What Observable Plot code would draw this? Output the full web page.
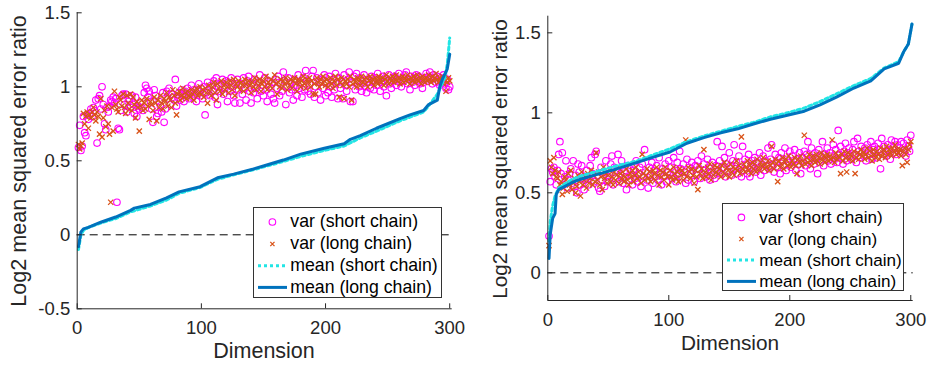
<!DOCTYPE html>
<html><head><meta charset="utf-8">
<script src="https://cdn.jsdelivr.net/npm/d3@7"></script>
<script src="https://cdn.jsdelivr.net/npm/@observablehq/plot@0.6"></script>
<style>
body{margin:0;background:#fff;font-family:"Liberation Sans",Arial,sans-serif;color:#262626;}
#wrap{position:relative;width:930px;height:368px;overflow:hidden;}
.panel{position:absolute;top:0;}
.lab{position:absolute;white-space:nowrap;line-height:1;color:#262626;}
.legend{position:absolute;border:1px solid #333;background:#fff;box-sizing:border-box;}
.legend .row{position:absolute;white-space:nowrap;line-height:1;color:#000;}
.legend svg{position:absolute;overflow:visible;}
</style></head><body>
<div id="wrap"></div>
<script>
// ---------- data ----------
const xTicks = [0, 100, 200, 300];
const yTicksLeft = [-0.5, 0, 0.5, 1, 1.5];
const yTicksRight = [0, 0.5, 1, 1.5];
const seriesNames = ["var (short chain)", "var (long chain)", "mean (short chain)", "mean (long chain)"];
const xLabel = "Dimension";
const yLabel = "Log2 mean squared error ratio";

// Left panel: variance ratios per dimension (1..300)
const leftVarShort = [
.59,.74,.57,.60,.80,.69,.67,.81,.78,.82, .85,.80,.86,.84,.91,.62,.92,.94,.85,1.00,
.88,.75,.71,.86,.83,.87,.91,.90,.93,.89, .92,.22,.72,.71,.84,.94,.95,.88,.95,.83,
.90,.92,.86,.94,.88,.82,.93,.80,.87,.85, .89,.86,.84,.96,1.01,.99,.93,.97,.90,.85,
.76,.98,.94,.80,.82,.90,.87,.83,.96,.76, .85,.97,.92,.99,.88,.95,.93,.91,1.05,.87,
.93,.96,.91,.98,.95,.90,.97,.94,.99,.92, .96,1.01,.93,.98,.95,.90,.97,1.02,.94,.99,
.92,1.00,.81,.96,1.03,.98,.94,1.01,.97,1.04, .93,1.06,.88,1.00,.97,1.02,1.05,.95,.99,1.04,
.90,1.03,.97,1.06,1.00,.94,.89,1.02,1.05,.98, .89,1.01,.95,1.06,.99,.91,1.04,1.07,.97,.89,
1.02,.96,1.05,.99,.92,1.03,1.08,.97,1.01,.94, 1.06,.98,.90,1.04,1.00,.95,1.03,.92,.89,1.05,
.99,1.07,.94,1.02,.97,1.10,1.04,.88,1.00,1.06, .96,1.03,.98,.91,1.05,1.01,.94,1.08,.99,1.03,
.93,1.06,.98,1.11,1.04,.97,1.02,.95,1.07,1.11, .93,1.00,1.06,.96,1.03,.91,1.05,.99,1.08,.94,
1.02,.96,1.07,1.00,.93,1.05,.98,1.09,1.03,.92, 1.06,.99,1.04,.92,1.08,1.01,.97,1.05,1.10,.90,
1.03,.90,1.07,.98,1.09,1.04,1.00,1.06,.97,1.02, 1.08,1.00,.96,1.05,1.03,.99,1.07,1.04,.98,1.06,
1.01,1.09,1.05,.97,1.03,1.07,1.00,1.06,.94,1.04, 1.08,1.02,.99,1.06,1.04,1.07,1.01,1.05,1.09,1.03,
1.00,1.06,1.04,1.08,1.10,1.02,1.05,.98,1.07,1.03, 1.06,1.01,1.08,1.04,1.07,1.02,1.05,.99,1.03,1.06,
1.09,1.04,1.07,1.10,1.05,1.02,1.08,1.06,1.03,1.07, 1.04,1.01,1.06,1.03,1.08,1.02,.99,1.05,.98,1.00];
const leftVarLong = [
.61,.58,.60,.62,.82,.75,.80,.83,.72,.81, .79,.83,.86,.81,.77,.83,.80,.68,.92,.66,
.79,.84,.73,.87,.75,.68,.22,.86,.70,.97, .88,.85,.83,.93,.91,.87,.95,.86,.82,.94,
.89,.85,.95,.84,.93,.88,.79,.90,.86,.70, .87,.91,.84,.89,.85,.92,.87,.78,.90,.88,
.84,.93,.89,.77,.91,.86,.94,.89,.85,.92, .90,.96,.87,.93,.91,.86,.98,.94,.89,.81,
.95,.97,.91,.94,.99,.93,.96,.92,.97,.94, .93,.98,.95,.91,.97,.99,.94,.96,1.00,.95,
.98,.93,.99,.96,.89,1.01,.97,.94,1.00,1.03, .96,.91,1.02,.99,.97,1.04,.95,1.01,.98,1.03,
1.00,.96,1.04,1.01,.98,1.05,.94,1.02,1.00,1.04, .98,1.03,1.01,.97,1.05,1.02,.99,1.04,1.01,.96,
1.03,1.00,1.06,.98,1.04,1.01,1.05,.97,1.02,1.04, 1.00,1.07,.98,1.03,1.01,1.05,.99,1.04,1.08,1.02,
.95,1.03,1.00,1.05,.99,1.04,1.02,1.06,.98,1.03, 1.01,1.05,.99,1.04,1.06,1.02,.97,1.05,1.03,1.00,
1.04,1.07,1.02,.99,1.05,1.03,1.06,1.00,1.04,.95, 1.02,.95,1.06,1.03,1.00,1.05,1.02,1.07,1.04,1.01,
1.05,1.00,1.03,1.06,1.02,.99,1.04,1.07,1.01,1.05, .93,1.03,1.06,1.01,.92,1.04,1.02,1.05,1.00,1.07,
.91,1.02,1.05,1.03,1.00,1.06,1.04,1.01,1.07,1.03, 1.05,1.02,1.06,1.00,1.04,1.07,1.03,1.05,1.01,1.06,
1.04,1.02,1.07,1.05,1.03,1.06,1.01,1.05,1.08,1.04, 1.02,1.06,1.04,1.07,1.03,1.05,1.08,1.04,1.06,1.02,
1.05,1.07,1.03,1.06,1.04,1.08,1.05,1.02,1.06,1.04, 1.07,1.03,1.05,1.08,1.04,1.06,1.02,1.07,1.05,1.03,
1.06,1.04,1.08,1.05,1.03,1.07,1.04,1.06,1.09,1.05, 1.03,1.06,1.04,1.07,1.02,1.05,.97,1.03,1.06,1.04];
// Left panel: sorted mean ratios (read at key dimensions)
const leftMeanLongDim = [1,3,5,9,19,31,43,46,59,72,82,99,113,126,142,150,166,180,199,215,220,228,241,260,268,279,283,290,292,294,298,300];
const leftMeanLongVal = [-0.08,0.02,0.04,0.05,0.085,0.12,0.165,0.18,0.205,0.25,0.29,0.325,0.385,0.41,0.445,0.465,0.505,0.545,0.585,0.615,0.645,0.67,0.72,0.785,0.81,0.84,0.88,0.91,1.0,1.05,1.12,1.22];
const leftMeanShortDim = [1,3,5,9,19,31,43,59,72,82,99,113,126,142,166,180,199,215,228,241,260,268,279,282,290,296,298,300];
const leftMeanShortVal = [-0.10,0.0,0.03,0.05,0.08,0.11,0.155,0.195,0.235,0.28,0.32,0.375,0.405,0.44,0.495,0.53,0.57,0.60,0.655,0.70,0.77,0.795,0.83,0.86,0.95,1.06,1.15,1.33];

// Right panel
const rightVarShort = [
.23,.57,.65,.63,.66,.60,.55,.64,.74,.82, .62,.75,.55,.60,.70,.53,.58,.62,.65,.56,
.70,.54,.61,.50,.68,.63,.55,.67,.59,.52, .58,.64,.60,.55,.67,.72,.62,.57,.74,.76,
.61,.53,.51,.66,.58,.63,.54,.70,.57,.60, .62,.68,.73,.55,.66,.59,.64,.74,.57,.62,
.70,.56,.63,.60,.52,.67,.58,.65,.61,.55, .64,.59,.70,.57,.62,.66,.54,.68,.60,.77,
.63,.58,.53,.66,.61,.69,.56,.64,.60,.67, .58,.72,.62,.55,.65,.60,.68,.57,.63,.70,
.61,.66,.59,.72,.64,.57,.69,.62,.76,.65, .60,.68,.63,.56,.71,.58,.66,.62,.69,.64,
.57,.67,.61,.70,.65,.59,.73,.62,.68,.64, .60,.71,.66,.58,.63,.69,.61,.59,.67,.82,
.64,.70,.62,.79,.66,.72,.60,.68,.63,.75, .67,.61,.70,.80,.65,.69,.62,.73,.66,.60,
.79,.64,.71,.68,.62,.74,.60,.67,.70,.65, .72,.63,.69,.66,.75,.61,.68,.73,.64,.70,
.67,.78,.65,.71,.80,.68,.63,.74,.69,.66, .72,.62,.75,.70,.67,.78,.64,.71,.69,.76,
.66,.73,.70,.77,.64,.71,.68,.75,.62,.72, .69,.76,.67,.74,.82,.70,.65,.78,.72,.68,
.75,.71,.62,.77,.69,.73,.82,.67,.74,.71, .78,.70,.75,.68,.73,.80,.71,.77,.69,.89,
.74,.79,.72,.68,.76,.81,.70,.75,.78,.73, .71,.77,.82,.74,.69,.84,.76,.72,.79,.75,
.73,.78,.70,.80,.76,.74,.82,.71,.77,.79, .75,.72,.81,.77,.65,.84,.74,.79,.76,.73,
.80,.77,.71,.83,.78,.75,.82,.74,.80,.76, .78,.82,.75,.81,.77,.73,.83,.79,.76,.86];
const rightVarLong = [
.17,.70,.66,.62,.72,.64,.60,.59,.63,.55, .57,.49,.53,.60,.58,.51,.62,.55,.64,.52,
.56,.59,.50,.54,.61,.57,.48,.63,.55,.58, .60,.53,.62,.56,.59,.64,.55,.61,.57,.75,
.58,.63,.55,.60,.52,.66,.59,.62,.56,.61, .64,.57,.60,.55,.63,.58,.61,.66,.56,.62,
.59,.63,.57,.60,.65,.58,.55,.62,.60,.64, .57,.61,.66,.59,.63,.60,.56,.74,.62,.58,
.61,.65,.59,.63,.57,.60,.64,.62,.58,.66, .61,.55,.64,.60,.63,.58,.66,.62,.60,.55,
.64,.60,.58,.66,.62,.59,.63,.57,.65,.61, .64,.58,.62,.83,.60,.66,.63,.59,.65,.61,
.56,.64,.60,.52,.67,.62,.65,.59,.77,.63, .60,.66,.62,.68,.58,.64,.61,.67,.63,.66,
.62,.65,.60,.67,.63,.69,.61,.66,.64,.60, .68,.63,.66,.61,.65,.70,.64,.67,.62,.85,
.65,.68,.63,.66,.70,.64,.67,.62,.69,.65, .68,.63,.71,.66,.64,.69,.67,.72,.65,.68,
.66,.70,.64,.67,.79,.69,.65,.71,.68,.57, .70,.66,.68,.72,.65,.69,.71,.67,.73,.68,
.66,.70,.68,.72,.67,.62,.71,.69,.73,.67, .70,.86,.68,.72,.69,.74,.70,.67,.73,.71,
.69,.74,.70,.72,.68,.75,.71,.73,.69,.72, .74,.70,.73,.71,.83,.72,.69,.75,.71,.73,
.72,.62,.74,.70,.76,.72,.63,.75,.71,.74, .73,.70,.76,.62,.72,.75,.71,.74,.77,.73,
.75,.71,.74,.78,.72,.76,.73,.70,.77,.74, .72,.76,.74,.71,.78,.73,.75,.77,.72,.79,
.74,.77,.75,.73,.78,.76,.80,.74,.77,.75, .77,.73,.67,.76,.78,.74,.69,.77,.80,.82];
const rightMeanLongDim = [1,2,4,6,7,9,19,27,41,55,74,88,101,115,129,143,157,170,184,198,212,225,239,253,267,278,290,294,298,301];
const rightMeanLongVal = [0.09,0.24,0.34,0.37,0.49,0.52,0.56,0.585,0.615,0.645,0.69,0.725,0.755,0.81,0.845,0.875,0.90,0.93,0.96,0.985,1.01,1.05,1.10,1.155,1.20,1.275,1.31,1.38,1.43,1.555];
const rightMeanShortDim = [1,2,4,6,9,19,27,41,55,74,88,101,115,129,143,157,170,184,198,212,225,239,253,267,278,290,294,298,301];
const rightMeanShortVal = [0.20,0.32,0.42,0.48,0.53,0.58,0.605,0.635,0.665,0.70,0.74,0.775,0.82,0.855,0.885,0.915,0.94,0.975,1.0,1.03,1.07,1.12,1.17,1.215,1.28,1.32,1.38,1.43,1.555];

// ---------- styles ----------
const C_SHORT = "#ff00ff", C_LONG = "#d95319", C_MSHORT = "#22e5e5", C_MLONG = "#0072bd", AXIS = "#262626";
const FONT = "'Liberation Sans', Arial, sans-serif";

function toRows(vals) { return vals.map((v, i) => ({dim: i + 1, val: v})); }
function toLine(dims, vals) { return dims.map((d, i) => ({dim: d, val: vals[i]})); }

function panel(cfg) {
  const {varShort, varLong, mShortD, mShortV, mLongD, mLongV, yDomain, yTicks, margins, left} = cfg;
  const chart = Plot.plot({
    width: 465, height: 368,
    marginLeft: margins[0], marginRight: margins[1], marginTop: margins[2], marginBottom: margins[3],
    x: {domain: [0, 302]},
    y: {domain: yDomain},
    style: {fontFamily: FONT, background: "transparent", overflow: "visible"},
    marks: [
      Plot.ruleY([0], {stroke: "#000", strokeWidth: 1, strokeDasharray: "8 5"}),
      Plot.dot(toRows(varShort), {x: "dim", y: "val", r: 3.3, stroke: C_SHORT, strokeWidth: 1.1, fill: "none"}),
      Plot.dot(toRows(varLong), {x: "dim", y: "val", symbol: "times", r: 2.5, stroke: C_LONG, strokeWidth: 1.3}),
      Plot.line(toLine(mShortD, mShortV), {x: "dim", y: "val", stroke: C_MSHORT, strokeWidth: 3, strokeDasharray: "3 3"}),
      Plot.line(toLine(mLongD, mLongV), {x: "dim", y: "val", stroke: C_MLONG, strokeWidth: 3}),
      Plot.ruleX([0], {stroke: AXIS}),
      Plot.ruleY([yDomain[0]], {stroke: AXIS}),
      Plot.axisX(xTicks, {tickSize: -5, tickPadding: 17, fontSize: 18.5, color: AXIS, label: null, tickFormat: d => String(d)}),
      Plot.axisY(yTicks, {tickSize: -5, tickPadding: 12, fontSize: 18.5, color: AXIS, label: null, tickFormat: d => String(d)})
    ]
  });
  const div = document.createElement("div");
  div.className = "panel";
  div.style.left = left + "px";
  div.appendChild(chart);
  return div;
}

const wrap = document.getElementById("wrap");
wrap.appendChild(panel({varShort: leftVarShort, varLong: leftVarLong, mShortD: leftMeanShortDim, mShortV: leftMeanShortVal,
  mLongD: leftMeanLongDim, mLongV: leftMeanLongVal, yDomain: [-0.5, 1.5], yTicks: yTicksLeft,
  margins: [76.7, 13.3, 12.3, 59.7], left: 0}));
wrap.appendChild(panel({varShort: rightVarShort, varLong: rightVarLong, mShortD: rightMeanShortDim, mShortV: rightMeanShortVal,
  mLongD: rightMeanLongDim, mLongV: rightMeanLongVal, yDomain: [-0.173, 1.604], yTicks: yTicksRight,
  margins: [82.3, 17.3, 15.7, 68], left: 465}));

// axis labels
function label(text, x, y, size, rotate) {
  const d = document.createElement("div");
  d.className = "lab";
  d.textContent = text;
  d.style.fontSize = size + "px";
  d.style.left = x + "px";
  d.style.top = y + "px";
  d.style.transform = "translate(-50%,-50%)" + (rotate ? " rotate(-90deg)" : "");
  wrap.appendChild(d);
}
label(xLabel, 264, 352, 21.5, false);
label(yLabel, 19, 161, 21.6, true);
label(xLabel, 730, 343, 20.8, false);
label(yLabel, 499.5, 159, 20.7, true);

// legends
function legend(x, y, w, h, rows, fs) {
  const box = document.createElement("div");
  box.className = "legend";
  Object.assign(box.style, {left: x + "px", top: y + "px", width: w + "px", height: h + "px"});
  const ns = "http://www.w3.org/2000/svg";
  const svg = document.createElementNS(ns, "svg");
  svg.setAttribute("width", w); svg.setAttribute("height", h);
  svg.style.left = "0px"; svg.style.top = "0px";
  const swatches = [
    (cy) => `<circle cx="18.4" cy="${cy}" r="3.3" fill="none" stroke="${C_SHORT}" stroke-width="1.1"/>`,
    (cy) => `<path d="M16.3,${cy-2.1}L20.5,${cy+2.1}M16.3,${cy+2.1}L20.5,${cy-2.1}" stroke="${C_LONG}" stroke-width="1.3"/>`,
    (cy) => `<line x1="4" x2="33" y1="${cy}" y2="${cy}" stroke="${C_MSHORT}" stroke-width="3" stroke-dasharray="3 3"/>`,
    (cy) => `<line x1="4" x2="33" y1="${cy}" y2="${cy}" stroke="${C_MLONG}" stroke-width="3"/>`
  ];
  svg.innerHTML = rows.map((cy, i) => swatches[i](cy)).join("");
  box.appendChild(svg);
  rows.forEach((cy, i) => {
    const t = document.createElement("div");
    t.className = "row";
    t.textContent = seriesNames[i];
    Object.assign(t.style, {left: "36px", top: (cy - fs / 2) + "px", fontSize: fs + "px"});
    box.appendChild(t);
  });
  wrap.appendChild(box);
}
legend(253.3, 207.3, 188.4, 90.4, [14, 36, 57.7, 79.4], 17.7);
legend(722.3, 203.3, 182, 87.7, [13.4, 35, 56, 77.4], 17.1);
</script>
</body></html>
